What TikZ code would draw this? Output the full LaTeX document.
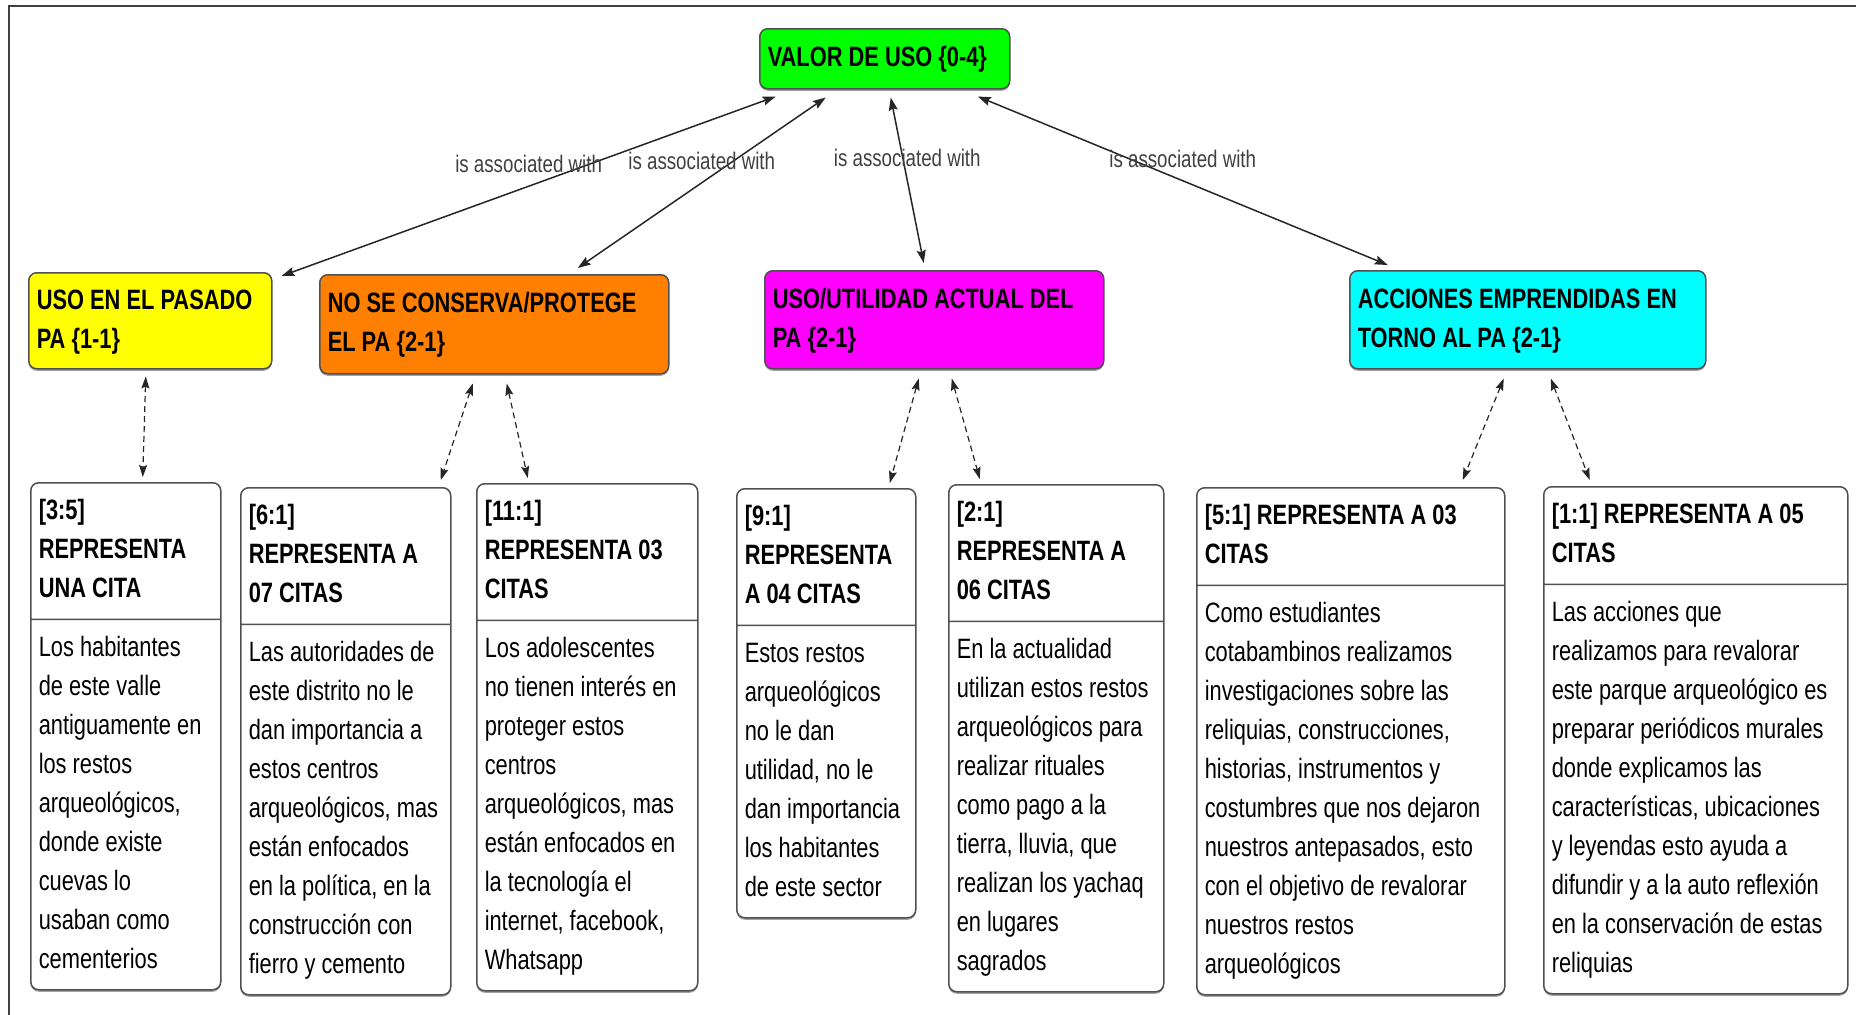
\documentclass[tikz,border=0pt]{standalone}
\usepackage{fontspec}
\setmainfont{Liberation Sans}[FakeStretch=0.78]
\usetikzlibrary{calc,shapes.multipart,shadows,arrows.meta}

\definecolor{verde}{RGB}{0,255,0}
\definecolor{amarillo}{RGB}{255,255,0}
\definecolor{naranja}{RGB}{255,128,0}
\definecolor{rosado}{RGB}{255,0,255}
\definecolor{cian}{RGB}{0,255,255}
\definecolor{borde}{RGB}{80,80,80}

\newcommand{\citatexto}[2]{\strut\textbf{#1}\strut\nodepart{two}\strut#2\strut}

\tikzset{
  cat/.style={draw=borde, line width=1.5pt, rounded corners=8pt, anchor=north west,
    align=flush left, inner xsep=8pt, inner ysep=9pt,
    font=\fontsize{28}{39}\selectfont\bfseries,
    execute at begin node=\strut, execute at end node=\strut,
    drop shadow={shadow xshift=0pt, shadow yshift=-2pt, fill=black!60, opacity=0.6}},
  cita/.style={rectangle split, rectangle split parts=2, draw=borde, line width=1.5pt,
    rounded corners=8pt, anchor=north west, align=flush left, fill=white,
    inner xsep=8pt, inner ysep=9pt, font=\fontsize{28}{39}\selectfont,
    drop shadow={shadow xshift=0pt, shadow yshift=-2pt, fill=black!60, opacity=0.6}},
  assoc/.style={{Stealth[length=13pt,width=9pt,inset=2pt]}-{Stealth[length=13pt,width=9pt,inset=2pt]}, line width=1.5pt, black!85},
  enlace/.style={{Stealth[length=12pt,width=8pt,inset=2pt]}-{Stealth[length=12pt,width=8pt,inset=2pt]}, line width=1.2pt, black!85, dash pattern=on 6pt off 4pt},
  etiqueta/.style={midway, yshift=22pt, text=black!75, inner sep=0pt, font=\fontsize{24}{28}\selectfont}
}

\begin{document}
\begin{tikzpicture}[x=1pt, y=-1pt]
\useasboundingbox (0,0) rectangle (1856,1015);

% marco
\draw[line width=2pt, black!75] (9,1015) -- (9,6) -- (1856,6);

% categorias
\node[cat, fill=verde, text width=234pt, minimum height=60pt] (valor) at (759,28) {VALOR DE USO \{0-4\}};
\node[cat, fill=amarillo, text width=227pt] (pasado) at (28,272) {USO EN EL PASADO\\PA \{1-1\}};
\node[cat, fill=naranja, text width=333pt, minimum height=99pt] (noconserva) at (319,274) {NO SE CONSERVA/PROTEGE\\EL PA \{2-1\}};
\node[cat, fill=rosado, text width=323pt, minimum height=98pt] (actual) at (764,270) {USO/UTILIDAD ACTUAL DEL\\PA \{2-1\}};
\node[cat, fill=cian, text width=340pt, minimum height=98pt] (acciones) at (1349,270) {ACCIONES EMPRENDIDAS EN\\TORNO AL PA \{2-1\}};

% citas
\node[cita, text width=174pt] (c35) at (30,482) {\citatexto{[3:5]\\REPRESENTA\\UNA CITA}{Los habitantes\\de este valle\\antiguamente en\\los restos\\arqueológicos,\\donde existe\\cuevas lo\\usaban como\\cementerios}};
\node[cita, text width=194pt] (c61) at (240,487) {\citatexto{[6:1]\\REPRESENTA A\\07 CITAS}{Las autoridades de\\este distrito no le\\dan importancia a\\estos centros\\arqueológicos, mas\\están enfocados\\en la política, en la\\construcción con\\fierro y cemento}};
\node[cita, text width=205pt] (c111) at (476,483) {\citatexto{[11:1]\\REPRESENTA 03\\CITAS}{Los adolescentes\\no tienen interés en\\proteger estos\\centros\\arqueológicos, mas\\están enfocados en\\la tecnología el\\internet, facebook,\\Whatsapp}};
\node[cita, text width=163pt] (c91) at (736,488) {\citatexto{[9:1]\\REPRESENTA\\A 04 CITAS}{Estos restos\\arqueológicos\\no le dan\\utilidad, no le\\dan importancia\\los habitantes\\de este sector}};
\node[cita, text width=199pt] (c21) at (948,484) {\citatexto{[2:1]\\REPRESENTA A\\06 CITAS}{En la actualidad\\utilizan estos restos\\arqueológicos para\\realizar rituales\\como pago a la\\tierra, lluvia, que\\realizan los yachaq\\en lugares\\sagrados}};
\node[cita, text width=292pt] (c51) at (1196,487) {\citatexto{[5:1] REPRESENTA A 03\\CITAS}{Como estudiantes\\cotabambinos realizamos\\investigaciones sobre las\\reliquias, construcciones,\\historias, instrumentos y\\costumbres que nos dejaron\\nuestros antepasados, esto\\con el objetivo de revalorar\\nuestros restos\\arqueológicos}};
\node[cita, text width=288pt] (c11) at (1543,486) {\citatexto{[1:1] REPRESENTA A 05\\CITAS}{Las acciones que\\realizamos para revalorar\\este parque arqueológico es\\preparar periódicos murales\\donde explicamos las\\características, ubicaciones\\y leyendas esto ayuda a\\difundir y a la auto reflexión\\en la conservación de estas\\reliquias}};

% is associated with
\draw[assoc] ($(valor.south)+(-109,7)$) -- ($(pasado.north east)+(9,4)$) node[etiqueta] (e1) {is associated with};
\draw[assoc] ($(valor.south)+(-59,8)$) -- ($(noconserva.north)+(83.5,-6)$) node[etiqueta] (e2) {is associated with};
\draw[assoc] ($(valor.south)+(6,8)$) -- ($(actual.north)+(-10.5,-7)$) node[etiqueta] (e3) {is associated with};
\draw[assoc] ($(valor.south)+(93,7)$) -- ($(acciones.north)+(-140,-5)$) node[etiqueta] (e4) {is associated with};

% citas enlazadas
\draw[enlace] ($(pasado.south)+(-4.5,7)$) -- ($(c35.north)+(17,-5)$);
\draw[enlace] ($(noconserva.south)+(-21.5,9)$) -- ($(c61.north)+(95,-7)$);
\draw[enlace] ($(noconserva.south)+(12.5,9)$) -- ($(c111.north)+(-59.5,-5)$);
\draw[enlace] ($(actual.south)+(-15.5,9)$) -- ($(c91.north)+(63.5,-5)$);
\draw[enlace] ($(actual.south)+(17.5,9)$) -- ($(c21.north)+(-76.5,-5)$);
\draw[enlace] ($(acciones.south)+(-24,9)$) -- ($(c51.north)+(112,-7)$);
\draw[enlace] ($(acciones.south)+(23,9)$) -- ($(c11.north)+(-106,-6)$);

\end{tikzpicture}
\end{document}
